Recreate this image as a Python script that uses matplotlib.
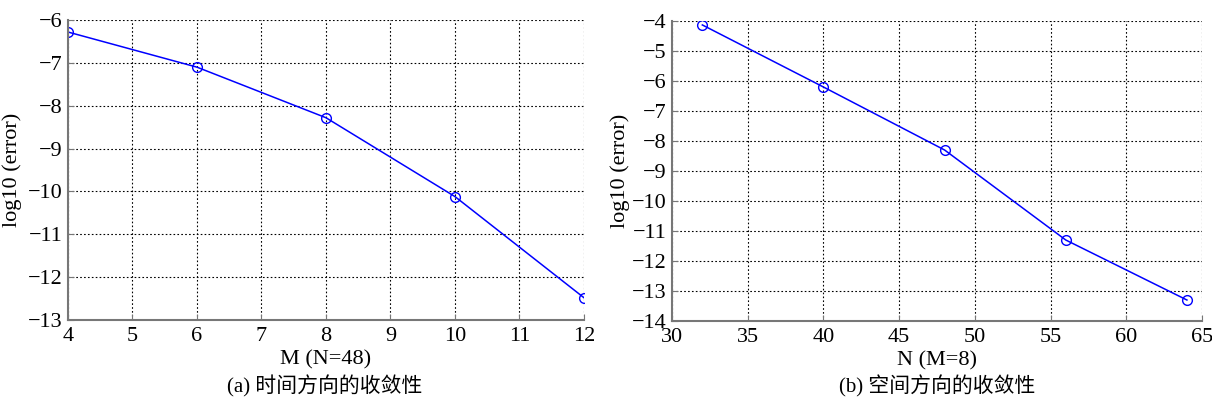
import numpy as np
import matplotlib.pyplot as plt

plt.rcParams['font.family'] = ['Liberation Serif', 'Noto Sans CJK SC']
plt.rcParams['axes.unicode_minus'] = True

# (a) time direction
M = [4, 6, 8, 10, 12]
err_M = [-6.28, -7.10, -8.28, -10.12, -12.48]

# (b) space direction
N = [32, 40, 48, 56, 64]
err_N = [-4.13, -6.20, -8.30, -11.30, -13.30]

fig = plt.figure(figsize=(12.12, 4.07), dpi=100)
ax1 = fig.add_axes([0.0561, 0.2138, 0.4257, 0.737])
ax2 = fig.add_axes([0.5545, 0.2113, 0.4373, 0.737])


def style(ax):
    ax.grid(True, color='black', linestyle=(0, (1.5, 2)), linewidth=0.8)
    for s in ['top', 'right']:
        ax.spines[s].set_visible(False)
    for s in ['left', 'bottom']:
        ax.spines[s].set_color('#777777')
        ax.spines[s].set_linewidth(1.5)
    ax.tick_params(direction='in', labelsize=16, length=4, color='#777777')
    ax.tick_params(axis='x', pad=5)
    ax.tick_params(axis='y', pad=4)


ax1.plot(M, err_M, color='blue', marker='o', markersize=7, markerfacecolor='none',
         markeredgecolor='blue', linewidth=1.1)
ax1.set_xlim(4, 12)
ax1.set_ylim(-13, -6)
ax1.set_xticks(np.arange(4, 13, 1))
ax1.set_yticks(np.arange(-13, -5, 1))
style(ax1)
ax1.set_xlabel('M (N=48)', fontsize=16)
ax1.xaxis.set_label_coords(0.5, -0.1)
ax1.set_ylabel('log10 (error)', fontsize=16)
ax1.yaxis.set_label_coords(-0.089, 0.5)
fig.text(0.268, 0.05, '(a) 时间方向的收敛性', ha='center', va='center', fontsize=15)

ax2.plot(N, err_N, color='blue', marker='o', markersize=7, markerfacecolor='none',
         markeredgecolor='blue', linewidth=1.1)
ax2.set_xlim(30, 65)
ax2.set_ylim(-14, -4)
ax2.set_xticks(np.arange(30, 66, 5))
ax2.set_yticks(np.arange(-14, -3, 1))
style(ax2)
ax2.set_xlabel('N (M=8)', fontsize=16)
ax2.xaxis.set_label_coords(0.5, -0.1)
ax2.set_ylabel('log10 (error)', fontsize=16)
ax2.yaxis.set_label_coords(-0.079, 0.5)
fig.text(0.773, 0.05, '(b) 空间方向的收敛性', ha='center', va='center', fontsize=15)

fig.savefig('out.png', dpi=100)
